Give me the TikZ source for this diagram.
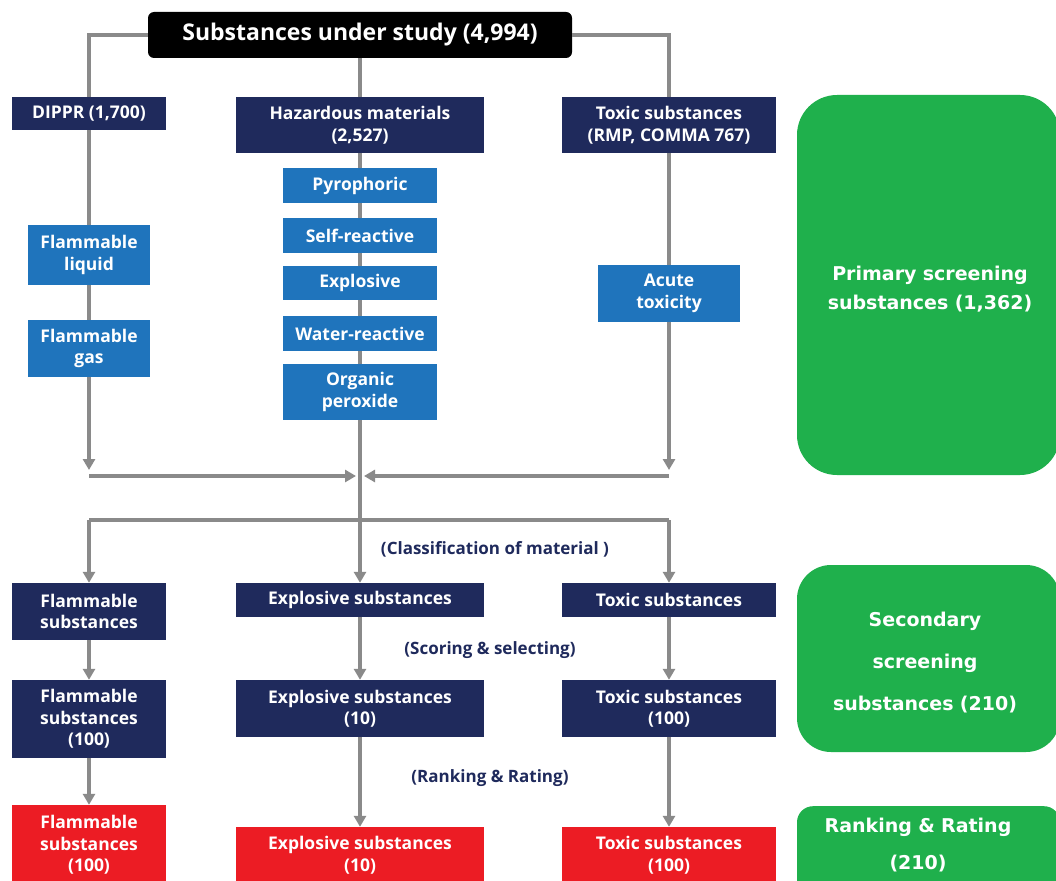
\documentclass[tikz,border=0pt]{standalone}
\usepackage{fontspec}
\setmainfont{Open Sans}
\newfontfamily\gfont{DejaVu Sans}
\usetikzlibrary{arrows.meta}
\definecolor{navy}{HTML}{1F2A5C}
\definecolor{lblue}{HTML}{1F74BC}
\definecolor{hred}{HTML}{EC1C24}
\definecolor{hgreen}{HTML}{1FB04C}
\definecolor{lgray}{HTML}{8A8A8A}
\begin{document}
\begin{tikzpicture}[x=1pt,y=-1pt,
  basebox/.style={inner sep=0pt, align=center, text=white, font=\fontsize{17.5}{21.5}\selectfont\bfseries},
  nbox/.style={basebox, fill=navy},
  bbox/.style={basebox, fill=lblue},
  rbox/.style={basebox, fill=hred},
  gbox/.style={inner sep=0pt, fill=hgreen, minimum width=263},
  gtext/.style={inner sep=0pt, align=center, text=white, text width=250, font=\gfont\fontsize{19}{29}\selectfont\bfseries},
  conn/.style={draw=lgray, line width=3.4pt},
  arr/.style={conn, -{Triangle[length=11pt,width=12pt]}},
  lbl/.style={text=navy, font=\fontsize{17}{20}\selectfont\bfseries}
]
\useasboundingbox (0,0) rectangle (1056,880);
\clip (0,0) rectangle (1056,880);
\fill[white] (0,0) rectangle (1056,880);

% title
\node[basebox, fill=black, rounded corners=6pt, minimum width=424, minimum height=46, font=\fontsize{23}{26}\selectfont\bfseries] (title) at (360,35) {Substances under study (4,994)};

% row 2
\node[nbox, minimum width=154, minimum height=33] (dippr) at (89,113.5) {DIPPR (1,700)};
\node[nbox, minimum width=248, minimum height=56] (haz) at (360,125) {Hazardous materials\\(2,527)};
\node[nbox, minimum width=214, minimum height=56] (tox) at (669,125) {Toxic substances\\(RMP, COMMA 767)};

% light blue
\node[bbox, minimum width=154, minimum height=35] (pyro) at (360,185.5) {Pyrophoric};
\node[bbox, minimum width=154, minimum height=35] (self) at (360,235.5) {Self-reactive};
\node[bbox, minimum width=154, minimum height=34] (expl) at (360,283) {Explosive};
\node[bbox, minimum width=154, minimum height=35] (water) at (360,333.5) {Water-reactive};
\node[bbox, minimum width=154, minimum height=56] (org) at (360,392) {Organic\\peroxide};
\node[bbox, minimum width=122, minimum height=60] (flliq) at (89,255) {Flammable\\liquid};
\node[bbox, minimum width=122, minimum height=57] (flgas) at (89,348.5) {Flammable\\gas};
\node[bbox, minimum width=142, minimum height=57] (acute) at (669,293.5) {Acute\\toxicity};

% row 4
\node[nbox, minimum width=154, minimum height=57] (fs1) at (89,611.5) {Flammable\\substances};
\node[nbox, minimum width=248, minimum height=34] (es1) at (360,600) {Explosive substances};
\node[nbox, minimum width=214, minimum height=34] (ts1) at (669,600) {Toxic substances};
% row 5
\node[nbox, minimum width=154, minimum height=78] (fs2) at (89,719) {Flammable\\substances\\(100)};
\node[nbox, minimum width=248, minimum height=57] (es2) at (360,708.5) {Explosive substances\\(10)};
\node[nbox, minimum width=214, minimum height=57] (ts2) at (669,708.5) {Toxic substances\\(100)};
% row 6
\node[rbox, minimum width=154, minimum height=80] (fs3) at (89,845) {Flammable\\substances\\(100)};
\node[rbox, minimum width=248, minimum height=56] (es3) at (360,855) {Explosive substances\\(10)};
\node[rbox, minimum width=214, minimum height=56] (ts3) at (669,855) {Toxic substances\\(100)};

% green panels
\node[gbox, rounded corners=40pt, minimum height=380] (prim) at (928.5,285) {};
\node[gtext] (primt) at (930,289) {Primary screening\\substances (1,362)};
\node[gbox, rounded corners=34pt, minimum height=187] (sec) at (928.5,658.5) {};
\node[gtext, font=\gfont\fontsize{19}{42}\selectfont\bfseries] (sect) at (925,663) {Secondary\\screening\\substances (210)};
\node[gbox, rounded corners=16pt, minimum height=94, anchor=north] (rank) at (928.5,806) {};
\node[gtext, font=\gfont\fontsize{19}{37}\selectfont\bfseries] (rankt) at (918,845) {Ranking \& Rating\\(210)};

% labels
\node[lbl] (lclass) at (495,549) {(Classification of material )};
\node[lbl] (lscore) at (490,650) {(Scoring \& selecting)};
\node[lbl] (lrank) at (490,778) {(Ranking \& Rating)};

% coordinates
\coordinate (ldn) at (89,470);
\coordinate (rdn) at (669,470);
\coordinate (lh) at (89,476);
\coordinate (rh) at (669,476);
\coordinate (cl) at (356,476);
\coordinate (cr) at (364,476);
\coordinate (jn) at (360,520);
\coordinate (jl) at (89,520);
\coordinate (jr) at (669,520);

% connectors
\draw[conn] (title.west) -| (dippr.north);
\draw[conn] (title.east) -| (tox.north);
\draw[conn] (title.south) -- (haz.north);
\draw[conn] (haz.south) -- (pyro.north);
\draw[conn] (pyro.south) -- (self.north);
\draw[conn] (self.south) -- (expl.north);
\draw[conn] (expl.south) -- (water.north);
\draw[conn] (water.south) -- (org.north);
\draw[conn] (org.south) -- (jn);
\draw[conn] (dippr.south) -- (flliq.north);
\draw[conn] (flliq.south) -- (flgas.north);
\draw[arr] (flgas.south) -- (ldn);
\draw[conn] (tox.south) -- (acute.north);
\draw[arr] (acute.south) -- (rdn);
\draw[arr] (lh) -- (cl);
\draw[arr] (rh) -- (cr);
\draw[conn] (jl) -- (jr);
\draw[arr] (jl) -- (fs1.north);
\draw[arr] (jn) -- (es1.north);
\draw[arr] (jr) -- (ts1.north);
\draw[arr] (fs1.south) -- (fs2.north);
\draw[arr] (es1.south) -- (es2.north);
\draw[arr] (ts1.south) -- (ts2.north);
\draw[arr] (fs2.south) -- (fs3.north);
\draw[arr] (es2.south) -- (es3.north);
\draw[arr] (ts2.south) -- (ts3.north);
\end{tikzpicture}
\end{document}
